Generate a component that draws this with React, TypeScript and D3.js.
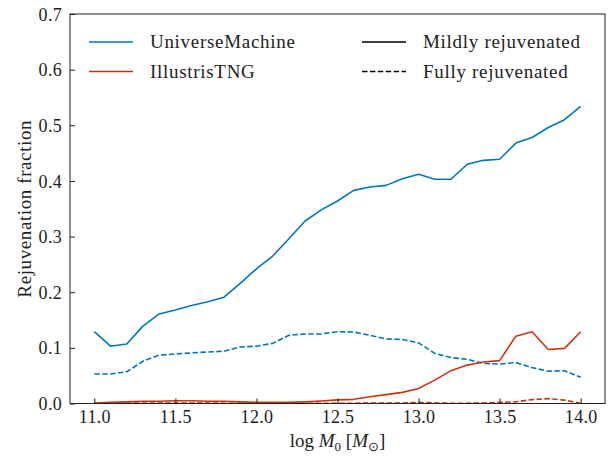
import { useEffect, useRef } from "react";
import * as d3 from "d3";

// log halo mass bins
const masses = [
  11.0, 11.1, 11.2, 11.3, 11.4, 11.5, 11.6, 11.7, 11.8, 11.9, 12.0, 12.1, 12.2, 12.3, 12.4, 12.5,
  12.6, 12.7, 12.8, 12.9, 13.0, 13.1, 13.2, 13.3, 13.4, 13.5, 13.6, 13.7, 13.8, 13.9, 14.0,
];

const umMild = [
  0.129, 0.103, 0.107, 0.139, 0.161, 0.168, 0.176, 0.183, 0.191, 0.216, 0.242, 0.265, 0.296, 0.328,
  0.348, 0.364, 0.383, 0.389, 0.392, 0.404, 0.412, 0.403, 0.403, 0.43, 0.437, 0.439, 0.468, 0.478,
  0.496, 0.51, 0.534,
];
const umFull = [
  0.053, 0.053, 0.057, 0.076, 0.087, 0.089, 0.091, 0.0925, 0.094, 0.1015, 0.103, 0.108, 0.1225,
  0.125, 0.125, 0.129, 0.1285, 0.1225, 0.116, 0.115, 0.109, 0.09, 0.0825, 0.0795, 0.072, 0.071,
  0.0735, 0.0645, 0.058, 0.059, 0.047,
];
const tngMild = [
  0.001, 0.002, 0.003, 0.004, 0.004, 0.005, 0.005, 0.004, 0.004, 0.003, 0.002, 0.002, 0.002, 0.003,
  0.0045, 0.0065, 0.0075, 0.012, 0.016, 0.02, 0.027, 0.042, 0.059, 0.069, 0.0745, 0.077, 0.121,
  0.129, 0.097, 0.099, 0.129,
];
const tngFull = [
  0.0005, 0.0005, 0.001, 0.001, 0.001, 0.001, 0.001, 0.001, 0.0005, 0.0005, 0.0005, 0.0005, 0.0005,
  0.0005, 0.0005, 0.0005, 0.0005, 0.001, 0.001, 0.001, 0.002, 0.001, 0.0005, 0.0005, 0.001, 0.002,
  0.003, 0.007, 0.0087, 0.006, 0.0005,
];

const xTicks = [11.0, 11.5, 12.0, 12.5, 13.0, 13.5, 14.0];
const yTicks = [0, 0.1, 0.2, 0.3, 0.4, 0.5, 0.6, 0.7];

const BLUE = "#0077BB";
const RED = "#CC3311";
const FONT = "Liberation Serif";

export default function App() {
  const ref = useRef<SVGSVGElement>(null);

  useEffect(() => {
    document.body.style.margin = "0";
    if (!ref.current) return;
    const svg = d3.select(ref.current);
    svg.selectAll("*").remove();

    const width = 616;
    const height = 456;
    const margin = { top: 14, right: 11, bottom: 52.5, left: 70 };
    const x = d3.scaleLinear().domain([10.85, 14.15]).range([margin.left, width - margin.right]);
    const y = d3.scaleLinear().domain([0, 0.7]).range([height - margin.bottom, margin.top]);

    svg.append("rect").attr("width", width).attr("height", height).attr("fill", "#fff");

    svg
      .append("clipPath")
      .attr("id", "plot-clip")
      .append("rect")
      .attr("x", margin.left)
      .attr("y", margin.top)
      .attr("width", width - margin.left - margin.right)
      .attr("height", height - margin.top - margin.bottom);

    const line = d3
      .line<number>()
      .x((_, i) => x(masses[i]))
      .y((d) => y(d));

    const series = [
      { values: umMild, color: BLUE, dash: null },
      { values: umFull, color: BLUE, dash: "5.5,2.4" },
      { values: tngMild, color: RED, dash: null },
      { values: tngFull, color: RED, dash: "5.5,2.4" },
    ];

    const plot = svg.append("g").attr("clip-path", "url(#plot-clip)");
    series.forEach((s) => {
      plot
        .append("path")
        .datum(s.values)
        .attr("d", line)
        .attr("fill", "none")
        .attr("stroke", s.color)
        .attr("stroke-width", 1.6)
        .attr("stroke-dasharray", s.dash)
        .attr("stroke-linejoin", "round");
    });

    // axes (ticks pointing inward)
    const xAxis = svg
      .append("g")
      .attr("transform", `translate(0,${height - margin.bottom})`)
      .call(
        d3
          .axisBottom(x)
          .tickValues(xTicks)
          .tickSizeInner(-5)
          .tickSizeOuter(0)
          .tickPadding(7)
          .tickFormat(d3.format(".1f"))
      );
    const yAxis = svg
      .append("g")
      .attr("transform", `translate(${margin.left},0)`)
      .call(
        d3
          .axisLeft(y)
          .tickValues(yTicks)
          .tickSizeInner(-5)
          .tickSizeOuter(0)
          .tickPadding(8)
          .tickFormat(d3.format(".1f"))
      );
    [xAxis, yAxis].forEach((g) => {
      g.attr("font-family", FONT);
      g.select(".domain").remove();
      g.selectAll(".tick line").attr("stroke", "#222").attr("stroke-width", 1);
      g.selectAll(".tick text")
        .attr("fill", "#222")
        .style("font-family", FONT)
        .attr("font-size", 18)
        .attr("letter-spacing", 0.3);
    });
    yAxis.selectAll(".tick text").attr("dy", "0.34em");

    // frame
    svg
      .append("rect")
      .attr("x", margin.left)
      .attr("y", margin.top)
      .attr("width", width - margin.left - margin.right)
      .attr("height", height - margin.top - margin.bottom)
      .attr("fill", "none")
      .attr("stroke", "#222")
      .attr("stroke-width", 1);

    // axis labels
    const xl = svg
      .append("text")
      .attr("x", (margin.left + width - margin.right) / 2)
      .attr("y", 447)
      .attr("text-anchor", "middle")
      .attr("fill", "#222")
      .style("font-family", FONT)
      .attr("font-size", 19);
    xl.append("tspan").text("log ");
    xl.append("tspan").attr("font-style", "italic").text("M");
    xl.append("tspan").attr("font-size", 13).attr("dy", 4).text("0");
    xl.append("tspan").attr("dy", -4).text(" [");
    xl.append("tspan").attr("font-style", "italic").text("M");
    xl.append("tspan").attr("font-size", 13).attr("dy", 4).text("\u2299");
    xl.append("tspan").attr("dy", -4).text("]");

    svg
      .append("text")
      .attr("transform", `translate(31,${(margin.top + height - margin.bottom) / 2}) rotate(-90)`)
      .attr("text-anchor", "middle")
      .attr("fill", "#222")
      .style("font-family", FONT)
      .attr("font-size", 19)
      .attr("letter-spacing", 0.6)
      .text("Rejuvenation fraction");

    // legend
    const legendItems = [
      { label: "UniverseMachine", color: BLUE, dash: null, col: 0, row: 0 },
      { label: "IllustrisTNG", color: RED, dash: null, col: 0, row: 1 },
      { label: "Mildly rejuvenated", color: "#000", dash: null, col: 1, row: 0 },
      { label: "Fully rejuvenated", color: "#000", dash: "5.5,2.4", col: 1, row: 1 },
    ];
    const colX = [89, 362];
    const rowY = [42, 71.5];
    const legend = svg.append("g");
    legendItems.forEach((d) => {
      const lx = colX[d.col];
      const ly = rowY[d.row];
      legend
        .append("line")
        .attr("x1", lx)
        .attr("x2", lx + 44)
        .attr("y1", ly)
        .attr("y2", ly)
        .attr("stroke", d.color)
        .attr("stroke-width", 1.6)
        .attr("stroke-dasharray", d.dash);
      legend
        .append("text")
        .attr("x", lx + 61)
        .attr("y", ly)
        .attr("dy", "0.34em")
        .attr("fill", "#222")
        .style("font-family", FONT)
        .attr("font-size", 19)
        .attr("letter-spacing", 0.7)
        .text(d.label);
    });
  }, []);

  return <svg ref={ref} width={616} height={456} style={{ display: "block" }} />;
}
